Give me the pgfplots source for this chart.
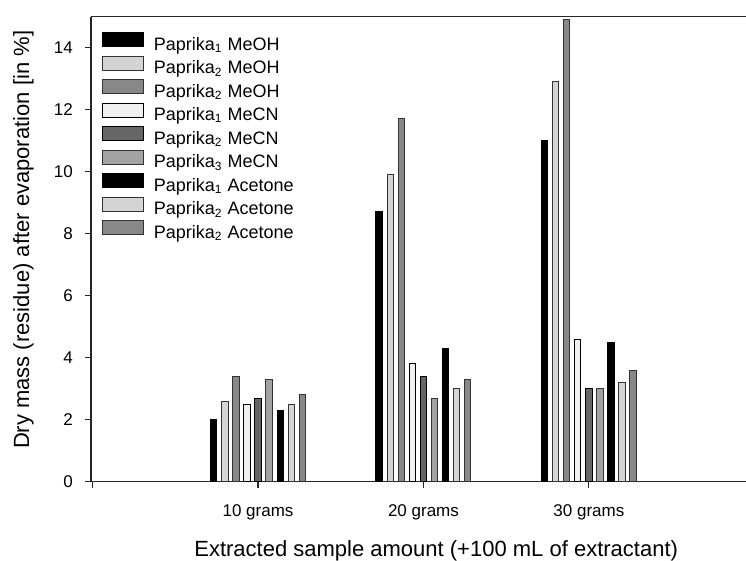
\documentclass[border=0pt]{standalone}
\usepackage{fontspec}
\setmainfont{Liberation Sans}
\usepackage{pgfplots}
\pgfplotsset{compat=1.18}
\usetikzlibrary{calc}
\definecolor{cA}{HTML}{000000}
\definecolor{cB}{HTML}{D4D4D4}
\definecolor{cC}{HTML}{888888}
\definecolor{cD}{HTML}{F0F0F0}
\definecolor{cE}{HTML}{666666}
\definecolor{cF}{HTML}{A3A3A3}
\begin{document}
\begin{tikzpicture}
\begin{axis}[
  scale only axis,
  width=327.5pt, height=232.5pt,
  xmin=-0.01, xmax=3.95, ymin=0, ymax=15,
  axis x line*=box, axis y line*=left,
  axis line style={line width=0.6pt, black!85},
  xtick pos=bottom, ytick pos=left,
  tick align=outside,
  major tick length=3pt,
  tick style={line width=0.6pt, black!85},
  xtick={0,1,2,3},
  xticklabels={,10 grams,20 grams,30 grams},
  ytick={0,2,...,14},
  /pgf/number format/assume math mode=true,
  ticklabel style={font=\fontsize{8.5}{10}\selectfont},
  xticklabel style={yshift=-4.8pt},
  yticklabel style={xshift=-2.6pt},
  xlabel={Extracted sample amount (+100 mL of extractant)},
  ylabel={Dry mass (residue) after evaporation [in \%]},
  label style={font=\fontsize{11}{13}\selectfont},
  xlabel style={at={(axis description cs:0.527,-0.1486)}, anchor=center},
  ylabel style={at={(axis description cs:-0.1030,0.520)}, anchor=center},
  ybar=2.34pt, bar width=3.2pt,
  legend image code/.code={\draw[#1, line width=0.5pt] (0pt,-0.6pt) rectangle (20.8pt,6.4pt);},
  legend cell align=left,
  legend style={draw=none, fill=none, inner sep=0pt, outer sep=0pt,
    at={(axis description cs:0,1)}, anchor=north west, xshift=5.3pt, yshift=-7.7pt,
    font=\fontsize{9}{11}\selectfont, column sep=4.8pt, row sep=0.6pt,
    nodes={inner sep=0pt, text height=7pt, text depth=2pt}},
  every axis plot/.append style={draw=black!80, line width=0.5pt},
]
\coordinate (LL) at (rel axis cs:0,0);
\coordinate (UR) at (rel axis cs:1,1);
\addplot[fill=cA, draw=black] coordinates {(1,2.0) (2,8.7) (3,11.0)};
\addplot[fill=cB] coordinates {(1,2.6) (2,9.9) (3,12.9)};
\addplot[fill=cC] coordinates {(1,3.4) (2,11.7) (3,14.9)};
\addplot[fill=cD, draw=black] coordinates {(1,2.5) (2,3.8) (3,4.6)};
\addplot[fill=cE, draw=black] coordinates {(1,2.7) (2,3.4) (3,3.0)};
\addplot[fill=cF] coordinates {(1,3.3) (2,2.7) (3,3.0)};
\addplot[fill=cA, draw=black] coordinates {(1,2.3) (2,4.3) (3,4.5)};
\addplot[fill=cB] coordinates {(1,2.5) (2,3.0) (3,3.2)};
\addplot[fill=cC] coordinates {(1,2.8) (2,3.3) (3,3.6)};
\legend{Paprika\textsubscript{1} MeOH, Paprika\textsubscript{2} MeOH, Paprika\textsubscript{2} MeOH,
  Paprika\textsubscript{1} MeCN, Paprika\textsubscript{2} MeCN, Paprika\textsubscript{3} MeCN,
  Paprika\textsubscript{1} Acetone, Paprika\textsubscript{2} Acetone, Paprika\textsubscript{2} Acetone}
\end{axis}
\pgfresetboundingbox
\path[use as bounding box] ($(LL)+(-45.5pt,-39.5pt)$) rectangle ($(UR)+(0pt,8.35pt)$);
\end{tikzpicture}
\end{document}
